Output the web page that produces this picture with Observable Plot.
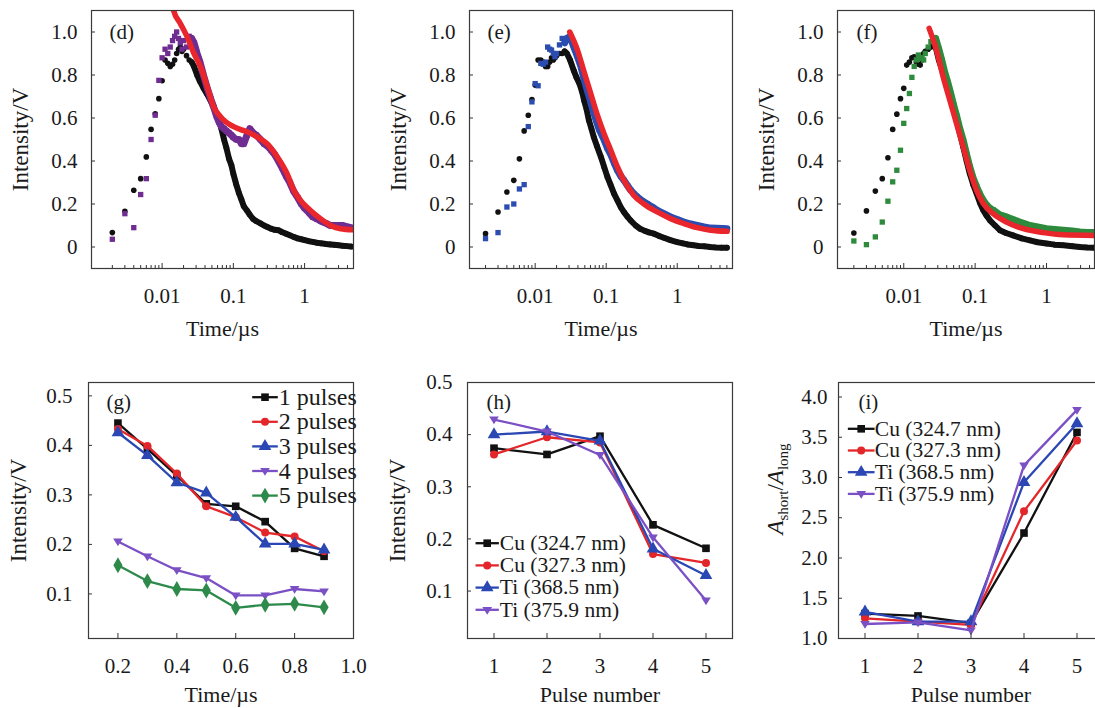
<!DOCTYPE html>
<html><head><meta charset="utf-8">
<script src="https://cdn.jsdelivr.net/npm/d3@7"></script>
<script src="https://cdn.jsdelivr.net/npm/@observablehq/plot@0.6"></script>
<style>
body{margin:0;background:#fff}
#wrap{position:relative;width:1095px;height:708px;overflow:hidden;font-family:"Liberation Serif","Times New Roman",serif}
.panel{position:absolute}
.panel svg{max-width:none!important}
</style></head><body><div id="wrap"></div>
<script>
// ---------- top row: (t in µs, intensity in V) ----------
const d_ref = [[0.002,0.067],[0.003,0.166],[0.004,0.264],[0.005,0.318],[0.006,0.419],[0.007,0.547],[0.008,0.62],[0.009,0.69],[0.010,0.773],[0.011,0.87],[0.012,0.855],[0.013,0.84],[0.014,0.85],[0.015,0.87],[0.016,0.9],[0.017,0.92],[0.018,0.93],[0.019,0.91],[0.020,0.92],[0.022,0.89],[0.024,0.87],[0.026,0.86],[0.028,0.84],[0.031,0.8],[0.034,0.77],[0.038,0.74],[0.043,0.71],[0.048,0.68],[0.053,0.65],[0.058,0.62],[0.063,0.59],[0.068,0.55],[0.074,0.5],[0.08,0.46],[0.087,0.41],[0.094,0.38],[0.10,0.34],[0.11,0.29],[0.12,0.25],[0.13,0.22],[0.14,0.19],[0.155,0.17],[0.17,0.15],[0.19,0.13],[0.21,0.12],[0.24,0.11],[0.27,0.1],[0.3,0.093],[0.34,0.085],[0.38,0.08],[0.43,0.078],[0.48,0.07],[0.55,0.062],[0.62,0.055],[0.7,0.047],[0.8,0.04],[0.9,0.036],[1.0,0.032],[1.15,0.027],[1.3,0.024],[1.5,0.02],[1.7,0.017],[2.0,0.014],[2.3,0.012],[2.6,0.01],[3.0,0.008],[3.4,0.006],[3.9,0.004],[4.5,0.002]];
const d_sig = [[0.002,0.036],[0.003,0.155],[0.004,0.09],[0.005,0.244],[0.006,0.318],[0.007,0.5],[0.008,0.613],[0.009,0.775],[0.010,0.88],[0.011,0.92],[0.012,0.9],[0.013,0.93],[0.014,0.96],[0.015,0.98],[0.016,1.0],[0.017,0.97],[0.018,0.95],[0.019,0.92],[0.020,0.96],[0.022,0.93],[0.024,0.98],[0.026,0.97],[0.028,0.95],[0.031,0.9],[0.034,0.86],[0.038,0.8],[0.043,0.74],[0.048,0.69],[0.053,0.65],[0.058,0.61],[0.063,0.58],[0.068,0.56],[0.074,0.55],[0.08,0.54],[0.087,0.53],[0.094,0.52],[0.10,0.51],[0.11,0.5],[0.12,0.5],[0.13,0.48],[0.14,0.48],[0.155,0.52],[0.17,0.55],[0.19,0.53],[0.21,0.52],[0.24,0.5],[0.27,0.48],[0.3,0.47],[0.34,0.45],[0.38,0.43],[0.43,0.4],[0.48,0.37],[0.55,0.33],[0.62,0.3],[0.7,0.26],[0.8,0.23],[0.9,0.2],[1.0,0.18],[1.15,0.16],[1.3,0.14],[1.5,0.13],[1.7,0.12],[2.0,0.11],[2.3,0.1],[2.6,0.1],[3.0,0.1],[3.4,0.1],[3.9,0.095],[4.5,0.09]];
const d_fit = [[0.014,1.14],[0.0145,1.1],[0.018,1.04],[0.0224,0.978],[0.028,0.9],[0.0345,0.84],[0.043,0.745],[0.053,0.652],[0.066,0.606],[0.08,0.58],[0.101,0.56],[0.13,0.545],[0.156,0.536],[0.216,0.512],[0.298,0.48],[0.412,0.42],[0.57,0.34],[0.705,0.264],[0.875,0.217],[1.21,0.17],[1.67,0.132],[2.31,0.1],[3.19,0.085],[4.86,0.08]];

const e_ref = [[0.002,0.062],[0.003,0.163],[0.004,0.256],[0.005,0.31],[0.006,0.41],[0.007,0.54],[0.008,0.613],[0.009,0.686],[0.010,0.753],[0.011,0.87],[0.012,0.87],[0.013,0.86],[0.014,0.84],[0.015,0.84],[0.016,0.86],[0.017,0.88],[0.018,0.87],[0.019,0.88],[0.020,0.89],[0.022,0.9],[0.024,0.9],[0.026,0.91],[0.028,0.9],[0.031,0.87],[0.035,0.82],[0.038,0.79],[0.042,0.76],[0.046,0.72],[0.049,0.68],[0.053,0.64],[0.057,0.59],[0.062,0.55],[0.067,0.51],[0.074,0.47],[0.084,0.42],[0.094,0.37],[0.104,0.326],[0.115,0.29],[0.129,0.248],[0.145,0.215],[0.16,0.186],[0.18,0.16],[0.2,0.14],[0.22,0.124],[0.26,0.1],[0.3,0.085],[0.35,0.075],[0.4,0.068],[0.47,0.062],[0.55,0.052],[0.65,0.043],[0.8,0.032],[1.0,0.023],[1.2,0.017],[1.4,0.012],[1.7,0.008],[2.0,0.005],[2.4,0.003],[2.9,0.0],[3.5,-0.002],[4.2,-0.003],[5.0,-0.003]];
const e_sig = [[0.002,0.039],[0.003,0.067],[0.004,0.186],[0.005,0.2],[0.006,0.27],[0.007,0.29],[0.008,0.56],[0.009,0.675],[0.010,0.76],[0.011,0.75],[0.012,0.854],[0.013,0.85],[0.014,0.86],[0.015,0.93],[0.016,0.92],[0.017,0.916],[0.018,0.9],[0.019,0.885],[0.020,0.9],[0.022,0.94],[0.024,0.97],[0.026,0.95],[0.028,0.97],[0.031,0.98],[0.035,0.93],[0.039,0.89],[0.044,0.84],[0.049,0.78],[0.054,0.73],[0.06,0.68],[0.066,0.63],[0.072,0.59],[0.08,0.545],[0.093,0.5],[0.104,0.46],[0.116,0.43],[0.13,0.39],[0.144,0.357],[0.16,0.33],[0.178,0.31],[0.2,0.285],[0.221,0.264],[0.25,0.245],[0.274,0.233],[0.32,0.215],[0.379,0.2],[0.45,0.185],[0.524,0.17],[0.65,0.155],[0.805,0.14],[1.0,0.128],[1.24,0.116],[1.5,0.108],[1.91,0.1],[2.4,0.093],[2.94,0.088],[3.6,0.087],[4.3,0.086],[5.0,0.085]];
const e_fit = [[0.0307,1.0],[0.0394,0.916],[0.0488,0.815],[0.0606,0.714],[0.0752,0.613],[0.093,0.528],[0.116,0.45],[0.144,0.373],[0.178,0.31],[0.246,0.24],[0.34,0.2],[0.524,0.163],[0.805,0.132],[1.24,0.109],[1.91,0.09],[2.94,0.078],[5.04,0.073]];

const f_ref = [[0.002,0.065],[0.003,0.168],[0.004,0.26],[0.005,0.318],[0.006,0.415],[0.007,0.547],[0.008,0.618],[0.009,0.69],[0.010,0.738],[0.011,0.846],[0.012,0.86],[0.013,0.88],[0.014,0.885],[0.015,0.86],[0.016,0.85],[0.017,0.846],[0.018,0.87],[0.019,0.9],[0.020,0.91],[0.022,0.92],[0.024,0.93],[0.026,0.94],[0.028,0.93],[0.031,0.87],[0.034,0.83],[0.037,0.79],[0.041,0.75],[0.045,0.7],[0.05,0.65],[0.055,0.59],[0.06,0.54],[0.068,0.466],[0.076,0.4],[0.084,0.342],[0.094,0.29],[0.105,0.248],[0.117,0.205],[0.13,0.171],[0.145,0.145],[0.161,0.124],[0.19,0.1],[0.222,0.078],[0.27,0.065],[0.34,0.054],[0.45,0.04],[0.585,0.031],[0.75,0.022],[1.0,0.016],[1.3,0.011],[1.72,0.008],[2.3,0.004],[2.94,0.0],[3.7,-0.002],[4.6,-0.003]];
const f_sig = [[0.002,0.028],[0.003,0.011],[0.004,0.047],[0.005,0.116],[0.006,0.213],[0.007,0.303],[0.008,0.357],[0.009,0.45],[0.010,0.575],[0.011,0.644],[0.012,0.714],[0.013,0.789],[0.014,0.84],[0.015,0.87],[0.016,0.893],[0.017,0.88],[0.018,0.877],[0.019,0.87],[0.020,0.9],[0.022,0.93],[0.024,0.955],[0.026,0.96],[0.028,0.97],[0.031,0.92],[0.034,0.87],[0.037,0.82],[0.041,0.77],[0.045,0.72],[0.05,0.66],[0.055,0.61],[0.06,0.56],[0.068,0.497],[0.076,0.43],[0.084,0.373],[0.094,0.32],[0.105,0.28],[0.117,0.245],[0.13,0.217],[0.145,0.195],[0.161,0.18],[0.18,0.171],[0.222,0.15],[0.275,0.14],[0.34,0.128],[0.42,0.116],[0.5,0.108],[0.585,0.1],[0.75,0.093],[1.0,0.085],[1.3,0.082],[1.72,0.078],[2.3,0.074],[2.94,0.07],[3.7,0.068],[4.6,0.067]];
const f_fit = [[0.0227,1.017],[0.0287,0.916],[0.0356,0.792],[0.0442,0.683],[0.0548,0.575],[0.068,0.466],[0.0843,0.357],[0.1045,0.264],[0.13,0.202],[0.179,0.155],[0.275,0.116],[0.472,0.085],[0.9,0.067],[1.72,0.057],[4.7,0.054]];

const logMajor = [0.01, 0.1, 1];
const logMinor = [0.002,0.003,0.004,0.005,0.006,0.007,0.008,0.009,0.02,0.03,0.04,0.05,0.06,0.07,0.08,0.09,0.2,0.3,0.4,0.5,0.6,0.7,0.8,0.9,2,3,4,5];
const intensityTicks = [0, 0.2, 0.4, 0.6, 0.8, 1.0];

// ---------- (g) ----------
const g_time = [0.2,0.3,0.4,0.5,0.6,0.7,0.8,0.9];
const g_names = ["1 pulses","2 pulses","3 pulses","4 pulses","5 pulses"];
const g_p1 = [0.445,0.393,0.339,0.282,0.277,0.246,0.192,0.176];
const g_p2 = [0.433,0.399,0.343,0.277,0.255,0.224,0.216,0.186];
const g_p3 = [0.426,0.380,0.325,0.304,0.255,0.201,0.201,0.189];
const g_p4 = [0.206,0.176,0.148,0.132,0.097,0.097,0.110,0.105];
const g_p5 = [0.158,0.126,0.110,0.107,0.072,0.078,0.080,0.073];
const g_xticks = [0.2,0.4,0.6,0.8,1.0];
const g_yticks = [0.1,0.2,0.3,0.4,0.5];

// ---------- (h), (i) ----------
const pulse = [1,2,3,4,5];
const line_names = ["Cu (324.7 nm)","Cu (327.3 nm)","Ti (368.5 nm)","Ti (375.9 nm)"];
const h_cu324 = [0.374,0.362,0.397,0.227,0.182];
const h_cu327 = [0.362,0.395,0.385,0.171,0.154];
const h_ti368 = [0.400,0.406,0.388,0.181,0.130];
const h_ti375 = [0.429,0.406,0.361,0.203,0.082];
const h_yticks = [0.1,0.2,0.3,0.4,0.5];
const i_cu324 = [1.31,1.28,1.19,2.31,3.56];
const i_cu327 = [1.25,1.21,1.17,2.58,3.46];
const i_ti368 = [1.33,1.21,1.21,2.94,3.67];
const i_ti375 = [1.18,1.20,1.10,3.15,3.84];
const i_yticks = [1.0,1.5,2.0,2.5,3.0,3.5,4.0];

// ---------- styling ----------
const FONT = "Liberation Serif";
const TXT = "#1a1a1a";
const RED_FIT = "#e8262b";
const C = {black:"#111111", red:"#e3262a", blue:"#2a47b3", purple:"#7a50c4", green:"#2d8a4a"};
const triDown = {draw(c, size){ const a = Math.sqrt(size)*0.58; c.moveTo(-a,-a*0.6); c.lineTo(a,-a*0.6); c.lineTo(0,a*1.0); c.closePath(); }};
const hline = len => ({draw(c){ c.moveTo(-len/2,0); c.lineTo(len/2,0); }});
const wrap = document.getElementById("wrap");

function mount(svg, left, top, w) {
  const d = document.createElement("div");
  d.className = "panel"; d.style.left = left+"px"; d.style.top = top+"px"; d.style.width = w+"px";
  d.appendChild(svg); wrap.appendChild(d); return svg;
}
const toObj = arr => arr.map(([t,v]) => ({t, v}));
const fmtI = d => d === 0 ? "0" : d.toFixed(1);

function axisMarks(xMajor, xMinor, xFmt, yTicks, yFmt, yPad) {
  return [
    Plot.axisX(xMajor, {anchor:"bottom", tickSize:-5, fill:"none", label:null, stroke:"#333"}),
    xMinor ? Plot.axisX(xMinor, {anchor:"bottom", tickSize:-3, fill:"none", label:null, stroke:"#333"}) : null,
    Plot.axisX(xMajor, {anchor:"bottom", tickSize:0, tickPadding:20, tickFormat:xFmt, fontSize:21, fill:TXT, label:null}),
    Plot.axisY(yTicks, {anchor:"left", tickSize:-4, fill:"none", label:null, stroke:"#333"}),
    Plot.axisY(yTicks, {anchor:"left", tickSize:0, tickPadding:yPad, tickFormat:yFmt, fontSize:21, fill:TXT, label:null}),
    Plot.frame({stroke:"#3a3a3a", strokeWidth:1.2})
  ];
}
const T = (txt, opts) => Plot.text([txt], {lineAnchor:"middle", fill:TXT, ...opts});

function topPanel({left, w, mL, mR, domain, ref, sig, fit, color, tag, tagDx}) {
  const R = toObj(ref), S = toObj(sig), F = toObj(fit);
  const minor = logMinor.filter(v => v >= domain[0] && v <= domain[1]);
  const svg = Plot.plot({
    width: w, height: 340, marginLeft: mL, marginRight: mR, marginTop: 10, marginBottom: 72,
    x: {type: "log", domain}, y: {domain: [-0.1, 1.1]},
    style: {fontFamily: FONT, background: "transparent", overflow: "visible", color: TXT},
    marks: [
      Plot.line(R.filter(d => d.t >= 0.026), {x:"t", y:"v", stroke:"#111", strokeWidth:6, strokeLinejoin:"round", clip:true}),
      Plot.dot(R, {x:"t", y:"v", r:2.8, fill:"#111", clip:true}),
      Plot.line(S.filter(d => d.t >= 0.026), {x:"t", y:"v", stroke:color, strokeWidth:7, strokeLinejoin:"round", clip:true}),
      Plot.dot(S, {x:"t", y:"v", symbol:"square", r:3, fill:color, clip:true}),
      Plot.line(F, {x:"t", y:"v", stroke:RED_FIT, strokeWidth:5.5, strokeLinejoin:"round", strokeLinecap:"round", clip:true, curve:"monotone-x"}),
      ...axisMarks(logMajor, minor, d => String(d), intensityTicks, fmtI, 14),
      T("Time/µs", {frameAnchor:"bottom", dy:60, fontSize:22, textAnchor:"middle"}),
      T("Intensity/V", {frameAnchor:"left", dx:-71, rotate:-90, fontSize:23, textAnchor:"middle"}),
      T(tag, {frameAnchor:"top-left", dx:tagDx, dy:22, textAnchor:"start", fontSize:21})
    ]
  });
  return mount(svg, left, 0, w);
}

topPanel({left:0, w:370, mL:91, mR:17, domain:[0.00102, 4.86], ref:d_ref, sig:d_sig, fit:d_fit, color:"#6f2c91", tag:"(d)", tagDx:18});
topPanel({left:370, w:370, mL:99, mR:8, domain:[0.00119, 6.0], ref:e_ref, sig:e_sig, fit:e_fit, color:"#2b4db0", tag:"(e)", tagDx:18});
topPanel({left:730, w:380, mL:107, mR:16, domain:[0.00118, 4.7], ref:f_ref, sig:f_sig, fit:f_fit, color:"#2e8a3c", tag:"(f)", tagDx:19});

function legendMarks(items, {dx, len, tdx, dy0, sp, fontSize}) {
  const out = [];
  items.forEach((it, i) => {
    const dy = dy0 + i*sp;
    out.push(Plot.dot([0], {frameAnchor:"top-left", dx, dy, symbol:hline(len), r:5, fill:"none", stroke:it.color, strokeWidth:2.3}));
    out.push(Plot.dot([0], {frameAnchor:"top-left", dx, dy, symbol:it.symbol, r:it.r, fill:it.color, stroke:"none"}));
    out.push(T(it.name, {frameAnchor:"top-left", dx:tdx, dy, textAnchor:"start", fontSize}));
  });
  return out;
}

function seriesMarks(xs, items) {
  const out = [];
  for (const it of items) {
    const data = xs.map((x, i) => ({x, v: it.values[i]}));
    out.push(Plot.line(data, {x:"x", y:"v", stroke:it.color, strokeWidth:2.3}));
    out.push(Plot.dot(data, {x:"x", y:"v", symbol:it.symbol, r:it.r, fill:it.color, stroke:"none"}));
  }
  return out;
}

function bottomPanel({left, w, mL, mR, xDomain, yDomain, xs, items, xTicks, xFmt, yTicks, yFmt, yPad, xTitle, yTitle, tag, tagDx, legend}) {
  const svg = Plot.plot({
    width: w, height: 348, marginLeft: mL, marginRight: mR, marginTop: 22, marginBottom: 70,
    x: {domain: xDomain}, y: {domain: yDomain},
    style: {fontFamily: FONT, background: "transparent", overflow: "visible", color: TXT},
    marks: [
      ...seriesMarks(xs, items),
      ...axisMarks(xTicks, null, xFmt, yTicks, yFmt, yPad),
      T(xTitle, {frameAnchor:"bottom", dy:56, fontSize:22, textAnchor:"middle"}),
      yTitle ? T(yTitle, {frameAnchor:"left", dx:-70, rotate:-90, fontSize:23, textAnchor:"middle"}) : null,
      T(tag, {frameAnchor:"top-left", dx:tagDx, dy:20, textAnchor:"start", fontSize:21}),
      ...legendMarks(items, legend)
    ]
  });
  return mount(svg, left, 360, w);
}

const sq = {symbol:"square", r:4.3}, ci = {symbol:"circle", r:4}, tu = {symbol:"triangle", r:4.7}, td = {symbol:triDown, r:4.7}, di = {symbol:"diamond", r:4.8};

bottomPanel({left:0, w:370, mL:88, mR:17, xDomain:[0.1, 1.0], yDomain:[0.01, 0.527], xs:g_time,
  items:[
    {name:g_names[0], values:g_p1, color:C.black, ...sq},
    {name:g_names[1], values:g_p2, color:C.red, ...ci},
    {name:g_names[2], values:g_p3, color:C.blue, ...tu},
    {name:g_names[3], values:g_p4, color:C.purple, ...td},
    {name:g_names[4], values:g_p5, color:C.green, ...di}
  ],
  xTicks:g_xticks, xFmt:d => d.toFixed(1), yTicks:g_yticks, yFmt:d => d.toFixed(1), yPad:16,
  xTitle:"Time/µs", yTitle:"Intensity/V", tag:"(g)", tagDx:18,
  legend:{dx:176.5, len:25.6, tdx:190.3, dy0:14.7, sp:24.6, fontSize:24}});

bottomPanel({left:370, w:370, mL:97, mR:8, xDomain:[0.5, 5.5], yDomain:[0.009, 0.5], xs:pulse,
  items:[
    {name:line_names[0], values:h_cu324, color:C.black, ...sq},
    {name:line_names[1], values:h_cu327, color:C.red, ...ci},
    {name:line_names[2], values:h_ti368, color:C.blue, ...tu},
    {name:line_names[3], values:h_ti375, color:C.purple, ...td}
  ],
  xTicks:pulse, xFmt:d => String(d), yTicks:h_yticks, yFmt:d => d.toFixed(1), yPad:15,
  xTitle:"Pulse number", yTitle:"Intensity/V", tag:"(h)", tagDx:19,
  legend:{dx:19.7, len:23.3, tdx:32.3, dy0:160.7, sp:22.2, fontSize:21.5}});

const iSvg = bottomPanel({left:730, w:380, mL:108, mR:7, xDomain:[0.5, 5.5], yDomain:[1.0, 4.18], xs:pulse,
  items:[
    {name:line_names[0], values:i_cu324, color:C.black, ...sq},
    {name:line_names[1], values:i_cu327, color:C.red, ...ci},
    {name:line_names[2], values:i_ti368, color:C.blue, ...tu},
    {name:line_names[3], values:i_ti375, color:C.purple, ...td}
  ],
  xTicks:pulse, xFmt:d => String(d), yTicks:i_yticks, yFmt:d => d.toFixed(1), yPad:11,
  xTitle:"Pulse number", yTitle:null, tag:"(i)", tagDx:20,
  legend:{dx:22.7, len:26.7, tdx:36.3, dy0:46.3, sp:21.7, fontSize:21.5}});

// y title of (i): A_short / A_long
const yt = d3.select(iSvg).append("text")
  .attr("transform", "translate(45,129) rotate(-90)")
  .attr("text-anchor", "middle").attr("dy", "0.35em")
  .attr("font-family", FONT).attr("font-size", 23).attr("fill", TXT);
yt.append("tspan").attr("font-style", "italic").text("A");
yt.append("tspan").attr("font-size", 15).attr("dy", 5).text("short");
yt.append("tspan").attr("dy", -5).text("/");
yt.append("tspan").attr("font-style", "italic").text("A");
yt.append("tspan").attr("font-size", 15).attr("dy", 5).text("long");
</script></body></html>
